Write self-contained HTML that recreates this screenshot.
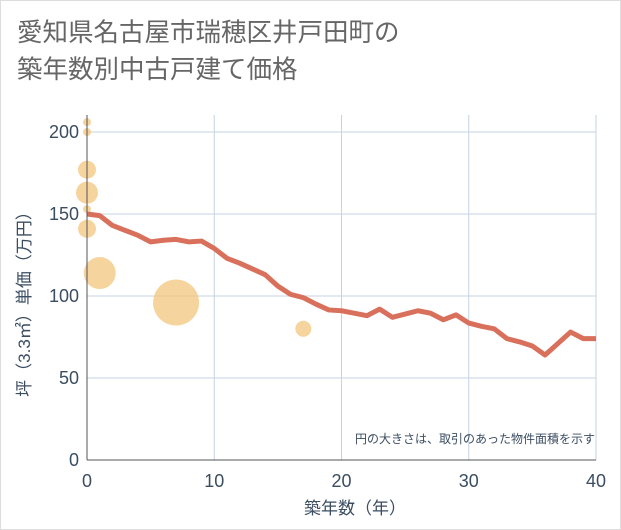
<!DOCTYPE html>
<html><head><meta charset="utf-8"><style>
body{margin:0;background:#fff;}
svg{display:block;font-family:"Liberation Sans","Noto Sans CJK JP",sans-serif;}
</style></head><body>
<svg width="621" height="530">
<rect x="0.5" y="0.5" width="620" height="529" fill="#fff" stroke="#ddd"/>
<text x="17" y="41" font-size="25.5" fill="#666">愛知県名古屋市瑞穂区井戸田町の</text>
<text x="17" y="78" font-size="25.5" fill="#666">築年数別中古戸建て価格</text>
<g id="grid"></g>
<g id="bubbles"></g>
<g id="line"></g>
<g id="axes"></g>
<text x="595" y="443" font-size="12" fill="#3b4d61" text-anchor="end">円の大きさは、取引のあった物件面積を示す</text>
<text x="355" y="514" font-size="17" fill="#3b4d61" text-anchor="middle">築年数（年）</text>
<text transform="translate(30,300) rotate(-90)" font-size="17" fill="#3b4d61" text-anchor="middle">坪（3.3㎡）単価（万円）</text>
</svg>
<script>
const xTicks=[0,10,20,30,40];
const yTicks=[0,50,100,150,200];
const lineYears=[0,1,2,3,4,5,6,7,8,9,10,11,12,13,14,15,16,17,18,19,20,21,22,23,24,25,26,27,28,29,30,31,32,33,34,35,36,37,38,39,40];
const lineValues=[150,149,143,140,137,133,134,134.5,133,133.5,129,123,120,116.5,113,106,101,99,95,91.5,91,89.5,88,92,87,89,91,89.5,85.5,88.5,83.5,81.5,80,74,72,69.5,64,71,78,74,74];
const bubbleYears=[0,0,0,0,0,0,1,7,17];
const bubbleValues=[206,200,177,163,153,141,114,96,80];
const bubbleRadii=[4,4,9,11,4,9,16,23,8];
const NS="http://www.w3.org/2000/svg";
const X=v=>87+v*(596-87)/40, Y=v=>460-v*1.64;
function mk(t,a,p){const e=document.createElementNS(NS,t);for(const k in a)e.setAttribute(k,a[k]);p.appendChild(e);return e;}
const g=document.getElementById('grid');
xTicks.forEach(t=>{if(t>0){const l=mk('line',{x1:X(t),x2:X(t),y1:115,y2:460,stroke:'#c5d3e0'},g);

}});
yTicks.forEach(t=>{if(t>0){const l=mk('line',{x1:87,x2:596,y1:Y(t),y2:Y(t),stroke:'#c5d3e0'},g);

}});
const b=document.getElementById('bubbles');
bubbleYears.forEach((yr,i)=>{const c=mk('circle',{cx:X(yr),cy:Y(bubbleValues[i]),r:bubbleRadii[i],fill:'#f3c57e','fill-opacity':0.75},b);

});
const pl=mk('polyline',{points:lineYears.map((yr,i)=>X(yr)+','+Y(lineValues[i])).join(' '),fill:'none',stroke:'#d9705c','stroke-width':5,'stroke-linejoin':'round'},document.getElementById('line'));


const a=document.getElementById('axes');
const ax=mk('line',{x1:87,x2:596,y1:460,y2:460,stroke:'#555'},a);


const ay=mk('line',{x1:87,x2:87,y1:115,y2:460,stroke:'#555'},a);


xTicks.forEach(t=>{const e=mk('text',{x:X(t),y:487,'font-size':18,fill:'#3b4d61','text-anchor':'middle'},a);e.textContent=t;

});
yTicks.forEach(t=>{const e=mk('text',{x:79,y:Y(t)+6,'font-size':18,fill:'#3b4d61','text-anchor':'end'},a);e.textContent=t;

});
</script>
</body></html>
